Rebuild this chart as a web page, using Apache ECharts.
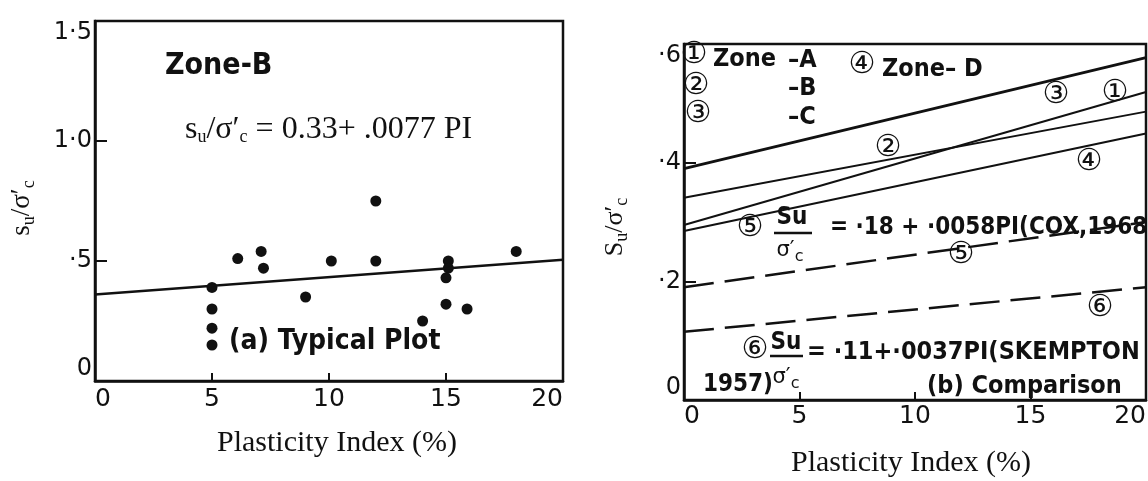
<!DOCTYPE html>
<html>
<head>
<meta charset="utf-8">
<script src="https://cdn.jsdelivr.net/npm/echarts@6/dist/echarts.min.js"></script>
<style>
  html, body { margin: 0; padding: 0; background: #fff; }
  #chart { width: 1148px; height: 481px; }
</style>
</head>
<body>
<div id="chart"></div>
<script>
  // (a) typical plot, zone B
  var typicalPI = [5.0, 5.0, 5.0, 5.0, 6.1, 7.1, 7.2, 9.0, 10.1, 12.0, 12.0, 14.0, 15.1, 15.1, 15.0, 15.0, 15.9, 18.0];
  var typicalRatio = [0.39, 0.30, 0.22, 0.15, 0.51, 0.54, 0.47, 0.35, 0.50, 0.75, 0.50, 0.25, 0.50, 0.47, 0.43, 0.32, 0.30, 0.54];
  var fitPI = [0, 20];
  var fitRatio = [0.36, 0.505];

  // (b) comparison of zones
  var zonePI = [0, 20];
  var zoneA = [0.295, 0.519];
  var zoneB = [0.341, 0.486];
  var zoneC = [0.39, 0.577];
  var zoneD = [0.285, 0.449];
  var coxRatio = [0.19, 0.30];
  var skemptonRatio = [0.115, 0.19];

  var typicalYTicks = ['0', '·5', '1·0', '1·5'];
  var compareYTicks = ['0', '·2', '·4', '·6'];

  var INK = '#111';
  var SANS = '"DejaVu Sans"';
  var COND = '"DejaVu Sans Condensed", "Liberation Sans Narrow", "DejaVu Sans"';
  var SERIF = '"Liberation Serif"';

  function pairs(xs, ys) {
    return xs.map(function(x, i) { return [x, ys[i]]; });
  }

  function lineSeries(idx, xs, ys, width, dashed) {
    return {
      type: 'line',
      xAxisIndex: idx,
      yAxisIndex: idx,
      data: pairs(xs, ys),
      symbol: 'none',
      silent: true,
      lineStyle: { color: INK, width: width, type: dashed ? [30, 11] : 'solid' }
    };
  }

  function txt(x, y, text, size, opts) {
    opts = opts || {};
    var style = {
      text: text,
      font: (opts.weight || 'normal') + ' ' + size + 'px ' + (opts.family || SANS),
      fill: INK,
      align: opts.align || 'left',
      textAlign: opts.align || 'left',
      verticalAlign: 'middle',
      textVerticalAlign: 'middle'
    };
    if (opts.rich) style.rich = opts.rich;
    return { type: 'text', x: x, y: y, rotation: opts.rotation || 0, silent: true, style: style };
  }

  // hand lettering of the figure: heavy, narrow
  function letter(x, y, text, size, align) {
    return txt(x, y, text, size, { family: COND, weight: 'bold', align: align });
  }

  function bar(x1, x2, y) {
    return { type: 'line', silent: true, shape: { x1: x1, y1: y, x2: x2, y2: y }, style: { stroke: INK, lineWidth: 2.5 } };
  }

  var subRich = {
    sub: { fontSize: 18, fontFamily: 'Liberation Serif', verticalAlign: 'bottom', padding: [14, 0, 0, 0] }
  };
  var subRichSans = {
    sub: { fontSize: 16, fontFamily: 'DejaVu Sans', verticalAlign: 'bottom', padding: [12, 0, 0, 0] }
  };

  function axisPair(idx, max, interval, ticks) {
    return {
      x: {
        type: 'value', gridIndex: idx, min: 0, max: 20, interval: 5,
        axisLine: { lineStyle: { color: INK, width: 2.5 } },
        axisTick: { inside: true, length: 8, lineStyle: { color: INK, width: 2 } },
        axisLabel: {
          color: INK, fontFamily: 'DejaVu Sans', fontSize: 25, margin: idx === 0 ? 6 : 4,
          alignMinLabel: 'left', alignMaxLabel: 'right'
        },
        splitLine: { show: false }
      },
      y: {
        type: 'value', gridIndex: idx, min: 0, max: max, interval: interval,
        axisLine: { lineStyle: { color: INK, width: 2.5 } },
        axisTick: { inside: true, length: 12, lineStyle: { color: INK, width: 2 } },
        axisLabel: {
          color: INK, fontFamily: 'DejaVu Sans', fontSize: 24, margin: 3,
          verticalAlignMinLabel: 'bottom', verticalAlignMaxLabel: 'top',
          formatter: function(v) { return ticks[Math.round(v / interval)]; }
        },
        splitLine: { show: false }
      }
    };
  }

  var axA = axisPair(0, 1.5, 0.5, typicalYTicks);
  var axB = axisPair(1, 0.6, 0.2, compareYTicks);

  var chart = echarts.init(document.getElementById('chart'));

  chart.setOption({
    animation: false,
    backgroundColor: '#fff',
    grid: [
      { left: 95, top: 21, width: 468, height: 360, show: true, borderColor: INK, borderWidth: 2.5,
        containLabel: false, outerBoundsMode: 'none' },
      { left: 684, top: 44, width: 462, height: 356, show: true, borderColor: INK, borderWidth: 2.5,
        containLabel: false, outerBoundsMode: 'none' }
    ],
    xAxis: [axA.x, axB.x],
    yAxis: [axA.y, axB.y],
    series: [
      {
        type: 'scatter',
        xAxisIndex: 0,
        yAxisIndex: 0,
        data: pairs(typicalPI, typicalRatio),
        symbol: 'circle',
        symbolSize: 11,
        silent: true,
        itemStyle: { color: INK, opacity: 1 }
      },
      lineSeries(0, fitPI, fitRatio, 2.5, false),
      lineSeries(1, zonePI, zoneA, 2, false),
      lineSeries(1, zonePI, zoneB, 2, false),
      lineSeries(1, zonePI, zoneC, 3, false),
      lineSeries(1, zonePI, zoneD, 2, false),
      lineSeries(1, zonePI, coxRatio, 2.5, true),
      lineSeries(1, zonePI, skemptonRatio, 2.5, true)
    ],
    graphic: [
      // panel (a)
      letter(165, 66, 'Zone-B', 30),
      txt(185, 130, 's{sub|u}/σ′{sub|c} = 0.33+ .0077 PI', 32, { family: SERIF, rich: subRich }),
      letter(229, 342, '(a) Typical Plot', 28),
      txt(22, 208, 's{sub|u}/σ′{sub|c}', 27, { family: SERIF, rich: subRich, align: 'center', rotation: Math.PI / 2 }),
      txt(337, 443, 'Plasticity Index (%)', 30, { family: SERIF, align: 'center' }),

      // panel (b) legend
      txt(694, 55, '①', 30, { align: 'center' }),
      letter(713, 59, 'Zone', 25),
      letter(788, 60, '–A', 25),
      txt(696, 86, '②', 30, { align: 'center' }),
      letter(788, 88, '–B', 25),
      txt(698, 114, '③', 30, { align: 'center' }),
      letter(788, 117, '–C', 25),
      txt(862, 65, '④', 30, { align: 'center' }),
      letter(882, 69, 'Zone– D', 25),

      // tags on the lines
      txt(1056, 95, '③', 30, { align: 'center' }),
      txt(1115, 93, '①', 30, { align: 'center' }),
      txt(888, 148, '②', 30, { align: 'center' }),
      txt(1089, 162, '④', 30, { align: 'center' }),
      txt(961, 255, '⑤', 30, { align: 'center' }),
      txt(1100, 308, '⑥', 30, { align: 'center' }),

      // Cox relation
      txt(750, 228, '⑤', 30, { align: 'center' }),
      letter(792, 218, 'Su', 24, 'center'),
      bar(774, 812, 233),
      txt(790, 251, 'σ′{sub|c}', 21, { rich: subRichSans, align: 'center' }),
      letter(830, 228, '= ·18 + ·0058PI(COX,1968)', 24),

      // Skempton relation
      txt(755, 350, '⑥', 30, { align: 'center' }),
      letter(786, 343, 'Su', 24, 'center'),
      bar(770, 803, 356),
      letter(807, 352, '= ·11+·0037PI(SKEMPTON', 25),
      letter(703, 385, '1957)', 24),
      txt(786, 378, 'σ′{sub|c}', 21, { rich: subRichSans, align: 'center' }),
      letter(927, 386, '(b) Comparison', 25),

      txt(615, 227, 'S{sub|u}/σ′{sub|c}', 26, { family: SERIF, rich: subRich, align: 'center', rotation: Math.PI / 2 }),
      txt(911, 463, 'Plasticity Index (%)', 30, { family: SERIF, align: 'center' })
    ]
  });
</script>
</body>
</html>
